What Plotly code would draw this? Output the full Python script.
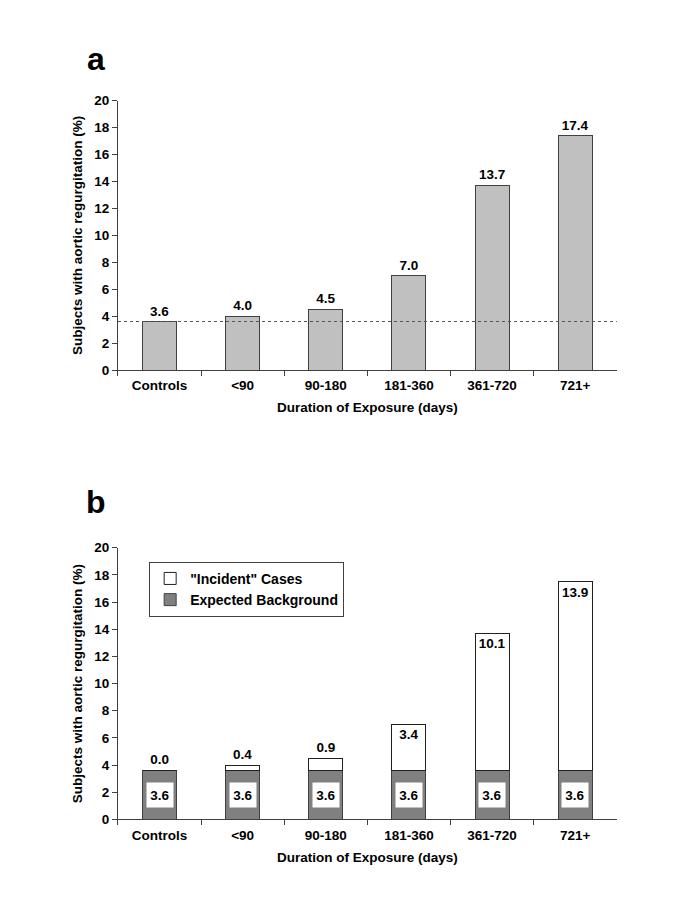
import plotly.graph_objects as go
from plotly.subplots import make_subplots

CATEGORIES = ["Controls", "<90", "90-180", "181-360", "361-720", "721+"]
TOTAL = [3.6, 4.0, 4.5, 7.0, 13.7, 17.4]
BACKGROUND = [3.6, 3.6, 3.6, 3.6, 3.6, 3.6]
INCIDENT = [0.0, 0.4, 0.9, 3.4, 10.1, 13.9]
CONTROL_RATE = 3.6

FONT = "Liberation Sans, Arial, sans-serif"
AXIS_COLOR = "#404040"
FS = 13.5

fig = make_subplots(rows=2, cols=1, vertical_spacing=0.1)

# panel a: total rates
fig.add_trace(
    go.Bar(
        x=CATEGORIES,
        y=TOTAL,
        width=0.41,
        marker={"color": "#c0c0c0", "line": {"color": "#404040", "width": 1}},
        text=[f"<b>{v:.1f}</b>" for v in TOTAL],
        textposition="outside",
        textfont={"size": FS, "color": "black"},
        cliponaxis=False,
        showlegend=False,
    ),
    row=1,
    col=1,
)
# dotted reference line at the control rate
fig.add_shape(
    type="line",
    xref="x domain",
    yref="y",
    x0=0,
    x1=1,
    y0=CONTROL_RATE,
    y1=CONTROL_RATE,
    line={"color": "#555555", "width": 1, "dash": "dot"},
)

# panel b: background + incident stacked
fig.add_trace(
    go.Bar(
        x=CATEGORIES,
        y=BACKGROUND,
        width=0.41,
        name="<b>Expected Background</b>",
        marker={"color": "#808080", "line": {"color": "#404040", "width": 1}},
    ),
    row=2,
    col=1,
)
fig.add_trace(
    go.Bar(
        x=CATEGORIES,
        y=INCIDENT,
        width=0.41,
        name='<b>"Incident" Cases</b>',
        marker={"color": "white", "line": {"color": "#202020", "width": 1}},
        text=[f"<b>{v:.1f}</b>" for v in INCIDENT],
        textposition=["outside" if v < 2 else "inside" for v in INCIDENT],
        insidetextanchor="end",
        textfont={"size": FS, "color": "black"},
        constraintext="none",
        cliponaxis=False,
    ),
    row=2,
    col=1,
)

for cat, v in zip(CATEGORIES, BACKGROUND):
    fig.add_annotation(
        x=cat,
        y=v / 2,
        xref="x2",
        yref="y2",
        text=f"<b>{v:.1f}</b>",
        showarrow=False,
        bgcolor="white",
        width=24,
        height=22,
        borderpad=1,
        font={"size": FS, "color": "black", "family": FONT},
    )

# panel letters
fig.add_annotation(
    x=0.1315, y=0.9498, xref="paper", yref="paper", text="<b>a</b>",
    showarrow=False, xanchor="center", yanchor="middle",
    font={"size": 32, "color": "black", "family": FONT},
)
fig.add_annotation(
    x=0.1315, y=0.448, xref="paper", yref="paper", text="<b>b</b>",
    showarrow=False, xanchor="center", yanchor="middle",
    font={"size": 32, "color": "black", "family": FONT},
)

axis_common = dict(
    showline=True,
    linecolor=AXIS_COLOR,
    linewidth=1,
    ticks="outside",
    ticklen=5,
    tickcolor=AXIS_COLOR,
    showgrid=False,
    zeroline=False,
    tickfont={"size": FS, "color": "black", "family": FONT},
    title_font={"size": FS, "color": "black", "family": FONT},
)

fig.update_xaxes(
    **axis_common,
    tickson="boundaries",
    range=[-0.5, 5.5],
    tickvals=list(range(6)),
    ticktext=[f"<b>{c.replace('<', '&lt;')}</b>" for c in CATEGORIES],
    ticklabelstandoff=3,
    title_text="<b>Duration of Exposure (days)</b>",
    title_standoff=10,
)
fig.update_yaxes(
    **axis_common,
    range=[0, 20],
    tickvals=list(range(0, 21, 2)),
    ticktext=[f"<b>{t}</b>" for t in range(0, 21, 2)],
    title_text="<b>Subjects with aortic regurgitation (%)</b>",
    title_standoff=8,
)

# page body has an 8px margin, so the figure is 16px smaller than the window
fig.update_layout(
    width=669,
    height=897,
    barmode="stack",
    plot_bgcolor="white",
    paper_bgcolor="white",
    margin={"l": 0, "r": 0, "t": 0, "b": 0},
    font={"family": FONT, "color": "black"},
    xaxis={"domain": [0.1644, 0.910]},
    xaxis2={"domain": [0.1644, 0.910]},
    yaxis={"domain": [0.5975, 0.903]},
    yaxis2={"domain": [0.088, 0.396]},
    legend={
        "x": 0.211,
        "y": 0.380,
        "xanchor": "left",
        "yanchor": "top",
        "traceorder": "reversed",
        "bgcolor": "white",
        "bordercolor": "#404040",
        "borderwidth": 1,
        "font": {"size": 14, "color": "black", "family": FONT},
        "itemwidth": 30,
        "tracegroupgap": 0,
    },
)

fig.write_html("out.html")
